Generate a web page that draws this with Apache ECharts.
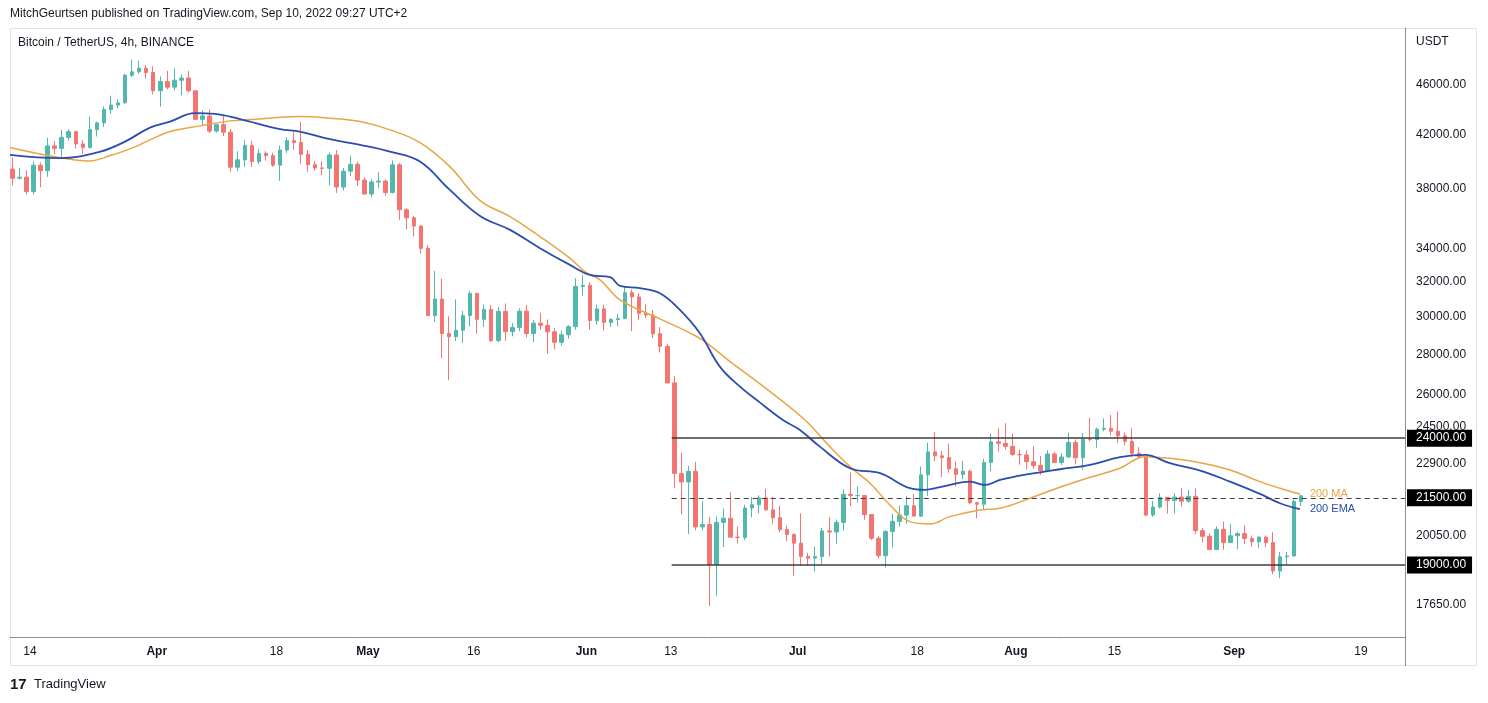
<!DOCTYPE html>
<html>
<head>
<meta charset="utf-8">
<title>Bitcoin / TetherUS, 4h, BINANCE</title>
<script src="https://cdn.jsdelivr.net/npm/echarts@6/dist/echarts.min.js"></script>
<style>
  html, body { margin: 0; padding: 0; background: #fff; }
  #chart { width: 1488px; height: 703px; }
</style>
</head>
<body>
<div id="chart"></div>
<script>
// daily candles, one row per day from firstDay: [open, high, low, close]
const firstDay = '2022-03-11'
const candles = [
  [39400, 40250, 38220, 38730], [38730, 39490, 38660, 38810], [38810, 39310, 37580, 37790],
  [37790, 39950, 37580, 39670], [39670, 39880, 38100, 39280], [39280, 41720, 38830, 41110],
  [41110, 41480, 40500, 40920], [40920, 42330, 40140, 41760], [41760, 42400, 41500, 42200],
  [42200, 42300, 40910, 41260], [41260, 41540, 40500, 41000], [41000, 43360, 40900, 42360],
  [42360, 43000, 41830, 42890], [42890, 44220, 42570, 43960], [43960, 45090, 43600, 44320],
  [44320, 44800, 44070, 44510], [44510, 46950, 44420, 46820], [46820, 48190, 46660, 47120],
  [47120, 48100, 46950, 47430], [47430, 47700, 46550, 47060], [47060, 47600, 45200, 45510],
  // April
  [45510, 46720, 44200, 46280], [46280, 47210, 45620, 45810], [45810, 47440, 45520, 46400],
  [46400, 46880, 45120, 46580], [46580, 47200, 45350, 45500], [45500, 45500, 43120, 43170],
  [43170, 43900, 42730, 43440], [43440, 43970, 42100, 42250], [42250, 42800, 42130, 42750],
  [42750, 43430, 41870, 42160], [42160, 42410, 39200, 39530], [39530, 40700, 39250, 40070],
  [40070, 41560, 39550, 41150], [41150, 41500, 39550, 39940], [39940, 40870, 39770, 40550],
  [40550, 40710, 40010, 40380], [40380, 40600, 39550, 39680], [39680, 41130, 38540, 40800],
  [40800, 41760, 40570, 41500], [41500, 42200, 40820, 41370], [41370, 42980, 39750, 40480],
  [40480, 40800, 39180, 39710], [39710, 39990, 39290, 39470], [39470, 39940, 38930, 39450],
  [39450, 40620, 38200, 40430], [40430, 40800, 37700, 38110], [38110, 39470, 37870, 39240],
  [39240, 40370, 38880, 39740], [39740, 39930, 38180, 38600], [38600, 38800, 37580, 37630],
  // May
  [37630, 38680, 37390, 38470], [38470, 39170, 38050, 38530], [38530, 38640, 37510, 37730],
  [37730, 40020, 37670, 39700], [39700, 39840, 35860, 36550], [36550, 36650, 35260, 36010],
  [36010, 36130, 34790, 35470], [35470, 35500, 33710, 34040], [34040, 34240, 30030, 30080],
  [30080, 32660, 29730, 31010], [31010, 32190, 27790, 29100], [29100, 30030, 26700, 28930],
  [28930, 30990, 28700, 29280], [29280, 30340, 28610, 30080], [30080, 31460, 29480, 31330],
  [31330, 31330, 29090, 29870], [29870, 30700, 29450, 30420], [30420, 30660, 28650, 28720],
  [28720, 30550, 28650, 30310], [30310, 30760, 28720, 29200], [29200, 29660, 28950, 29430],
  [29430, 30480, 29230, 30320], [30320, 30670, 28880, 29100], [29100, 29840, 28630, 29660],
  [29660, 30230, 29300, 29540], [29540, 29860, 28030, 29190], [29190, 29390, 28270, 28630],
  [28630, 29260, 28450, 29030], [29030, 29550, 28820, 29470], [29470, 32220, 29300, 31730],
  [31730, 32400, 31200, 31800],
  // June
  [31800, 31980, 29300, 29800], [29800, 30700, 29570, 30450], [30450, 30680, 29260, 29700],
  [29700, 29950, 29450, 29860], [29860, 30170, 29480, 29910], [29910, 31770, 29880, 31370],
  [31370, 31560, 29220, 31130], [31130, 31330, 29840, 30200], [30200, 30700, 29940, 30110],
  [30110, 30390, 28850, 29090], [29090, 29440, 28100, 28420], [28420, 28540, 26560, 26570],
  [26570, 26900, 21900, 22490], [22490, 23360, 20850, 22140], [22140, 22800, 20110, 22580],
  [22580, 22980, 20250, 20380], [20380, 21370, 20250, 20470], [20470, 20760, 17620, 19020],
  [19020, 20780, 17950, 20550], [20550, 21080, 19640, 20710], [20710, 21720, 20350, 20000],
  [20000, 20400, 19770, 19990], [19990, 21230, 19890, 21100], [21100, 21530, 20740, 21230],
  [21230, 21600, 20900, 21500], [21500, 21860, 21000, 21030], [21030, 21540, 20500, 20730],
  [20730, 21190, 20190, 20280], [20280, 20430, 19850, 20100], [20100, 20140, 18630, 19780],
  // July
  [19780, 20900, 18970, 19300], [19300, 19430, 18980, 19240], [19240, 19650, 18780, 19300],
  [19300, 20350, 19040, 20230], [20230, 20750, 19300, 20190], [20190, 20660, 19760, 20550],
  [20550, 21840, 20240, 21640], [21640, 22530, 21180, 21590], [21590, 21960, 21320, 21590],
  [21590, 21600, 20650, 20850], [20850, 20860, 19880, 19960], [19960, 20050, 19240, 19330],
  [19330, 20250, 18910, 20210], [20210, 20880, 19620, 20590], [20590, 21200, 20390, 20830],
  [20830, 21570, 20500, 21190], [21190, 21650, 20760, 20790], [20790, 22780, 20760, 22430],
  [22430, 23800, 21580, 23400], [23400, 24280, 23010, 23230], [23230, 23440, 22340, 23160],
  [23160, 23760, 22510, 22680], [22680, 22990, 21960, 22450], [22450, 23010, 22250, 22580],
  [22580, 22660, 21250, 21310], [21310, 21340, 20710, 21250], [21250, 23110, 21040, 22950],
  [22950, 24200, 22580, 23840], [23840, 24440, 23410, 23770], [23770, 24670, 23500, 23640],
  [23640, 24190, 23230, 23290],
  // August
  [23290, 23500, 22850, 23270], [23270, 23460, 22650, 22980], [22980, 23650, 22690, 22820],
  [22820, 23220, 22430, 22610], [22610, 23470, 22590, 23310], [23310, 23400, 22920, 22950],
  [22950, 23350, 22840, 23180], [23180, 24250, 23150, 23810], [23810, 23940, 22860, 23150],
  [23150, 24230, 22650, 23950], [23950, 24920, 23860, 23940], [23940, 24460, 23580, 24400],
  [24400, 24890, 24300, 24440], [24440, 25050, 24120, 24310], [24310, 25210, 23780, 24100],
  [24100, 24250, 23690, 23860], [23860, 24450, 23180, 23340], [23340, 23600, 23110, 23190],
  [23190, 23210, 20780, 20830], [20830, 21380, 20760, 21140], [21140, 21680, 21080, 21520],
  [21520, 21530, 20890, 21400], [21400, 21680, 20890, 21530], [21530, 21900, 21160, 21370],
  [21370, 21820, 21310, 21560], [21560, 21880, 20110, 20240], [20240, 20350, 19800, 20030],
  [20030, 20140, 19520, 19550], [19550, 20400, 19550, 20290], [20290, 20580, 19540, 19800],
  [19800, 20490, 19800, 20050],
  // September
  [20050, 20200, 19560, 20130], [20130, 20450, 19750, 19950], [19950, 20060, 19650, 19830],
  [19830, 20030, 19600, 20000], [20000, 20060, 19640, 19800], [19800, 20180, 18680, 18790],
  [18790, 19460, 18540, 19290], [19290, 19460, 19000, 19320], [19320, 21440, 19300, 21360],
  [21360, 21620, 21180, 21580]
]

// 200 EMA (blue)
const emaTimes = [
  '2022-03-11 04:00', '2022-03-18 06:00', '2022-03-24 00:00', '2022-03-27 12:00', '2022-03-31 01:00',
  '2022-04-02 21:00', '2022-04-06 10:00', '2022-04-09 06:00', '2022-04-12 20:00', '2022-04-18 12:00',
  '2022-04-21 08:00', '2022-04-25 14:00', '2022-04-29 21:00', '2022-05-04 03:00', '2022-05-08 09:00',
  '2022-05-12 15:00', '2022-05-16 22:00', '2022-05-21 04:00', '2022-05-25 10:00', '2022-05-29 16:00',
  '2022-06-01 12:00', '2022-06-04 09:00', '2022-06-05 19:00', '2022-06-08 15:00', '2022-06-11 11:00',
  '2022-06-14 07:00', '2022-06-17 03:00', '2022-06-19 23:00', '2022-06-22 20:00', '2022-06-25 16:00',
  '2022-06-28 22:00', '2022-07-01 08:00', '2022-07-04 04:00', '2022-07-08 11:00', '2022-07-12 17:00',
  '2022-07-16 23:00', '2022-07-19 02:00', '2022-07-21 05:00', '2022-07-25 12:00', '2022-07-27 15:00',
  '2022-07-29 18:00', '2022-08-03 00:00', '2022-08-07 06:00', '2022-08-11 13:00', '2022-08-15 19:00',
  '2022-08-19 08:00', '2022-08-22 21:00', '2022-08-27 04:00', '2022-08-31 10:00', '2022-09-04 16:00',
  '2022-09-07 12:00', '2022-09-10 08:00'
]
const emaValues = [
  40435, 40190, 40682, 41438, 42521,
  42993, 43664, 43608, 43183, 42395,
  42209, 41621, 41187, 40682, 39940,
  37910, 36138, 35218, 34051, 33019,
  32417, 32280, 31767, 31632, 31342,
  30393, 29116, 27379, 26388, 25622,
  24818, 24365, 23627, 22706, 22498,
  21885, 21816, 21925, 22152, 22018,
  22222, 22469, 22664, 22844, 23171,
  23269, 22916, 22606, 22152, 21656,
  21288, 21054
]

// 200 MA (orange)
const maTimes = [
  '2022-03-11 04:00', '2022-03-16 03:00', '2022-03-22 12:00', '2022-03-25 09:00', '2022-03-28 05:00',
  '2022-03-31 01:00', '2022-04-02 21:00', '2022-04-07 03:00', '2022-04-11 10:00', '2022-04-14 06:00',
  '2022-04-21 08:00', '2022-04-25 14:00', '2022-04-29 21:00', '2022-05-04 03:00', '2022-05-08 09:00',
  '2022-05-12 15:00', '2022-05-16 22:00', '2022-05-21 04:00', '2022-05-25 10:00', '2022-05-29 16:00',
  '2022-05-31 19:00', '2022-06-02 23:00', '2022-06-05 19:00', '2022-06-11 11:00', '2022-06-15 17:00',
  '2022-06-17 20:00', '2022-06-21 10:00', '2022-06-25 16:00', '2022-07-02 01:00', '2022-07-05 14:00',
  '2022-07-08 11:00', '2022-07-11 07:00', '2022-07-14 03:00', '2022-07-16 23:00', '2022-07-19 19:00',
  '2022-07-22 15:00', '2022-07-26 22:00', '2022-07-29 18:00', '2022-08-03 00:00', '2022-08-07 06:00',
  '2022-08-11 13:00', '2022-08-15 19:00', '2022-08-19 08:00', '2022-08-22 21:00', '2022-08-27 04:00',
  '2022-08-31 10:00', '2022-09-04 16:00', '2022-09-07 12:00', '2022-09-10 08:00'
]
const maValues = [
  40983, 40435, 39991, 40383, 40885,
  41568, 42209, 42654, 43049, 43152,
  43391, 43263, 42993, 42341, 41362,
  39573, 37164, 36091, 34786, 33429,
  32614, 32120, 30957, 29893, 29132,
  28669, 27632, 26520, 24818, 23627,
  22773, 22087, 21222, 20579, 20492,
  20769, 21027, 21093, 21485, 21925,
  22333, 22706, 23196, 23128, 22941,
  22635, 22152, 21885, 21656
]

const priceTicks = [17650, 20050, 22900, 24500, 26000, 28000, 30000, 32000, 34000, 38000, 42000, 46000]
const levels = [24000, 21500, 19000]
const levelStart = '2022-06-13 03:00'
const dateTicks = ['2022-03-14', '2022-04-01', '2022-04-18', '2022-05-01', '2022-05-16', '2022-06-01',
  '2022-06-13', '2022-07-01', '2022-07-18', '2022-08-01', '2022-08-15', '2022-09-01', '2022-09-19']
const dateLabels = ['14', 'Apr', '18', 'May', '16', 'Jun', '13', 'Jul', '18', 'Aug', '15', 'Sep', '19']

const ts = s => Date.parse(s.replace(' ', 'T') + (s.length > 10 ? ':00Z' : 'T00:00:00Z'))
const DAY = 86400000
const xMin = ts('2022-03-11 03:50')
const xMax = ts('2022-09-25 06:15')
const dayZero = ts(firstDay + ' 12:00')

const upColor = '#52b8ab'
const downColor = '#f27572'
const font = '"Liberation Sans", Arial, sans-serif'

const candleData = candles.map((c, i) => [dayZero + i * DAY, c[0], c[3], c[2], c[1]])
const emaData = emaTimes.map((t, i) => [ts(t), emaValues[i]])
const maData = maTimes.map((t, i) => [ts(t), maValues[i]])
const tickTimes = dateTicks.map(ts)

// price scale labels ride on invisible horizontal markLines so they sit on the log scale
const tickLines = priceTicks.map(v => ({
  yAxis: v,
  lineStyle: { color: 'rgba(0,0,0,0)', width: 0 },
  label: { formatter: v.toFixed(2), color: '#131722', fontSize: 12, fontFamily: font, distance: 11 }
}))
const levelLines = levels.map((v, i) => {
  const style = {
    lineStyle: { color: '#3c3c3c', width: i === 1 ? 1.2 : 1.5, type: i === 1 ? [5, 4] : 'solid' },
    label: {
      formatter: v.toFixed(2), color: '#fff', backgroundColor: '#000', fontSize: 12, fontFamily: font,
      padding: [3, 6, 2, 9], distance: 2
    }
  }
  return [Object.assign({ coord: [ts(levelStart), v] }, style), Object.assign({ coord: [xMax, v] }, style)]
})

const chart = echarts.init(document.getElementById('chart'))
chart.setOption({
  animation: false,
  backgroundColor: '#fff',
  textStyle: { fontFamily: font },
  grid: { left: 10, right: 83, top: 28, bottom: 66 },
  xAxis: {
    type: 'value',
    min: xMin,
    max: xMax,
    axisLine: { onZero: false, lineStyle: { color: '#8a8d96' } },
    axisTick: { show: false },
    splitLine: { show: false },
    axisLabel: {
      customValues: tickTimes,
      margin: 9,
      color: '#131722',
      fontSize: 12,
      formatter: value => {
        const i = tickTimes.indexOf(value)
        if (i < 0) return ''
        const label = dateLabels[i]
        return isNaN(+label) ? '{b|' + label + '}' : label
      },
      rich: { b: { fontWeight: 'bold', fontSize: 12, color: '#131722' } }
    }
  },
  yAxis: {
    type: 'log',
    position: 'right',
    min: 16640,
    max: 51080,
    axisLine: { show: true, lineStyle: { color: '#8a8d96' } },
    axisTick: { show: false },
    axisLabel: { show: false },
    splitLine: { show: false }
  },
  graphic: [
    { type: 'rect', silent: true, shape: { x: 10.5, y: 28.5, width: 1466, height: 637 }, style: { fill: 'none', stroke: '#e0e3eb' } },
    { type: 'line', silent: true, shape: { x1: 1405.5, y1: 637, x2: 1405.5, y2: 666 }, style: { stroke: '#8a8d96' } },
    { type: 'text', left: 10, top: 8, style: { text: 'MitchGeurtsen published on TradingView.com, Sep 10, 2022 09:27 UTC+2', font: '12px ' + font, fill: '#131722' } },
    { type: 'text', left: 18, top: 37, style: { text: 'Bitcoin / TetherUS, 4h, BINANCE', font: '12px ' + font, fill: '#131722' } },
    { type: 'text', left: 1416, top: 36, style: { text: 'USDT', font: '12px ' + font, fill: '#131722' } },
    { type: 'text', left: 10, top: 677, style: { text: '17', font: '900 15px ' + font, fill: '#131722' } },
    { type: 'text', left: 34, top: 678, style: { text: 'TradingView', font: '13px ' + font, fill: '#131722' } }
  ],
  series: [
    {
      name: 'BTCUSDT',
      type: 'candlestick',
      data: candleData,
      barWidth: 4,
      itemStyle: {
        color: upColor,
        color0: downColor,
        borderColor: upColor,
        borderColor0: downColor,
        borderWidth: 1
      },
      markLine: {
        silent: true,
        symbol: ['none', 'none'],
        animation: false,
        data: tickLines.concat(levelLines)
      }
    },
    {
      name: '200 MA',
      type: 'line',
      data: maData,
      smooth: 0.4,
      showSymbol: false,
      lineStyle: { color: '#e9a444', width: 1.5 },
      endLabel: { show: true, formatter: '200 MA', color: '#e9a444', fontSize: 11, distance: 10 },
      z: 3
    },
    {
      name: '200 EMA',
      type: 'line',
      data: emaData,
      smooth: 0.4,
      showSymbol: false,
      lineStyle: { color: '#2c4cae', width: 1.8 },
      endLabel: { show: true, formatter: '200 EMA', color: '#2c4cae', fontSize: 11, distance: 10 },
      z: 3
    }
  ]
})
</script>
</body>
</html>
